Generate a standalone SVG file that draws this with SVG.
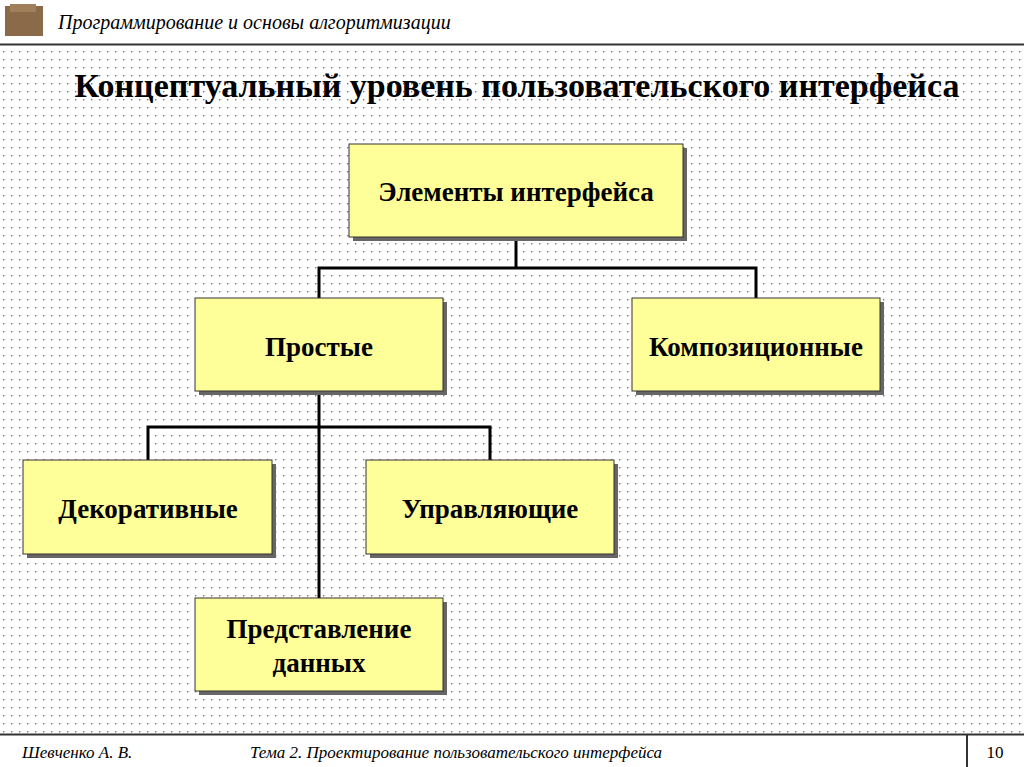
<svg xmlns="http://www.w3.org/2000/svg" width="1024" height="767" viewBox="0 0 1024 767">
<defs>
<pattern id="dots" x="0" y="0" width="8" height="8" patternUnits="userSpaceOnUse"><rect x="3" y="3" width="1.4" height="1.4" fill="#777"/></pattern>
<style>
.box{fill:#ffff99;stroke:#333;stroke-width:1}
.sh{fill:#666}
.t{font-family:"Liberation Serif",serif;font-weight:bold;font-size:27px;fill:#000;text-anchor:middle}
.c{stroke:#000;stroke-width:3;fill:none}
.hd{font-family:"Liberation Serif",serif;font-style:italic;fill:#000}
</style>
</defs>
<rect width="1024" height="767" fill="#fff"/>
<rect x="0" y="46" width="1024" height="688" fill="url(#dots)"/>
<rect x="5" y="6" width="38" height="30" fill="#8b6a4a"/>
<rect x="10" y="4" width="26" height="8" fill="#a0805a"/>
<text class="hd" x="58" y="29" font-size="20">Программирование и основы алгоритмизации</text>
<line x1="0" y1="44.5" x2="1024" y2="44.5" stroke="#333" stroke-width="2"/>
<line x1="0" y1="734.5" x2="1024" y2="734.5" stroke="#333" stroke-width="2"/>
<line x1="967" y1="734" x2="967" y2="767" stroke="#333" stroke-width="2"/>
<text class="hd" x="22" y="758" font-size="17">Шевченко А. В.</text>
<text class="hd" x="250" y="758" font-size="17">Тема 2. Проектирование пользовательского интерфейса</text>
<text x="995" y="758" font-family="Liberation Serif,serif" font-size="17" text-anchor="middle">10</text>
<text x="517" y="97" font-family="Liberation Serif,serif" font-weight="bold" font-size="34" text-anchor="middle">Концептуальный уровень пользовательского интерфейса</text>
<g id="connectors">
<polyline class="c" points="516,237 516,268"/>
<polyline class="c" points="319,298 319,268 756,268 756,298"/>
<polyline class="c" points="319,391 319,598"/>
<polyline class="c" points="148,460 148,427 490,427 490,460"/>
</g>
<g id="n1"><rect class="sh" x="353" y="148" width="334" height="93"/><rect class="box" x="349" y="144" width="334" height="93"/><text class="t" x="516" y="201">Элементы интерфейса</text></g>
<g id="n2"><rect class="sh" x="199" y="302" width="248" height="93"/><rect class="box" x="195" y="298" width="248" height="93"/><text class="t" x="319" y="356">Простые</text></g>
<g id="n3"><rect class="sh" x="636" y="302" width="248" height="93"/><rect class="box" x="632" y="298" width="248" height="93"/><text class="t" x="756" y="356">Композиционные</text></g>
<g id="n4"><rect class="sh" x="27" y="464" width="249" height="94"/><rect class="box" x="23" y="460" width="249" height="94"/><text class="t" x="148" y="518">Декоративные</text></g>
<g id="n5"><rect class="sh" x="370" y="464" width="248" height="94"/><rect class="box" x="366" y="460" width="248" height="94"/><text class="t" x="490" y="518">Управляющие</text></g>
<g id="n6"><rect class="sh" x="199" y="602" width="248" height="93"/><rect class="box" x="195" y="598" width="248" height="93"/><text class="t" x="319" y="638">Представление</text><text class="t" x="319" y="672">данных</text></g>
</svg>
